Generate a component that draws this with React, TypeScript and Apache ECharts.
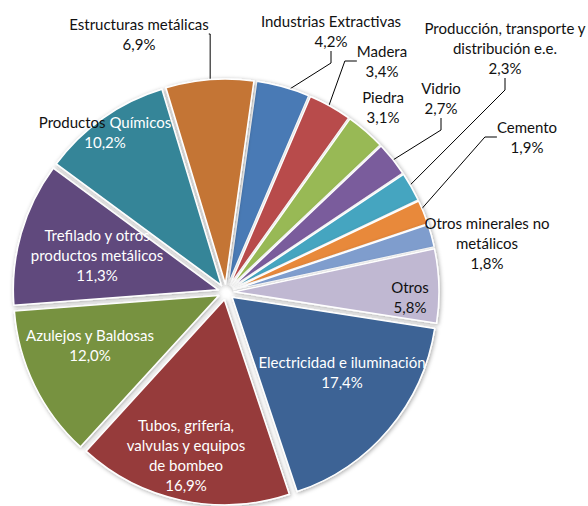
import React, { useEffect, useRef } from "react";
import * as echarts from "echarts";

const categories = [
  "Industrias Extractivas",
  "Madera",
  "Piedra",
  "Vidrio",
  "Producción, transporte y\ndistribución e.e.",
  "Cemento",
  "Otros minerales no\nmetálicos",
  "Otros",
  "Electricidad e iluminación",
  "Tubos, grifería,\nvalvulas y equipos\nde bombeo",
  "Azulejos y Baldosas",
  "Trefilado y otros\nproductos metálicos",
  "Productos Químicos",
  "Estructuras metálicas",
];

const values = [4.2, 3.4, 3.1, 2.7, 2.3, 1.9, 1.8, 5.8, 17.4, 16.9, 12.0, 11.3, 10.2, 6.9];

const colors = [
  "#4a7ab5", "#b84b4b", "#98b954", "#7a5c9c", "#45a5c0", "#e8893a", "#7f9dcd",
  "#c0b8d2", "#3c6495", "#963a3a", "#77923f", "#604a7d", "#368598", "#c47535",
];

// label placement (layout, not data)
const labelPos: [number, number][] = [
  [331, 31], [382, 61], [383, 107], [441, 98], [505, 48], [527, 137], [487, 243],
  [410, 297], [342, 372], [186, 455], [90, 345], [97, 255], [105, 132], [139, 34],
];
const insideIdx = [7, 8, 9, 10, 11, 12];
const noLineIdx = [2, 6];

const fmt = (v: number) => v.toFixed(1).replace(".", ",") + "%";

const FONT = "Lato";
const FS = 15;
const LH = 20;

export default function App() {
  const ref = useRef<HTMLDivElement>(null);
  useEffect(() => {
    if (!ref.current) return;
    const chart = echarts.init(ref.current, null, { renderer: "svg" });
    const common = {
      type: "pie",
      center: [226, 292],
      radius: 205,
      startAngle: 82,
      clockwise: true,
      avoidLabelOverlap: false,
      silent: true,
      emphasis: { disabled: true },
    };
    const sliceData = categories.map((name, i) => ({
      name,
      value: values[i],
      selected: true,
      itemStyle: { color: colors[i] },
    }));
    const labelData = categories.map((name, i) => {
      const inside = insideIdx.includes(i);
      const item: any = {
        name,
        value: values[i],
        label: {
          position: inside ? "inside" : "outside",
          color: inside && i !== 7 ? "#ffffff" : "#111111",
        },
        labelLine: { show: !inside && !noLineIdx.includes(i) },
      };
      if (i === 12) {
        item.label.formatter = "{d|Productos} {w|Químicos}\n{w|" + fmt(values[i]) + "}";
      }
      return item;
    });
    chart.setOption({
      animation: false,
      backgroundColor: "#ffffff",
      series: [
        {
          ...common,
          selectedMode: "multiple",
          selectedOffset: 8,
          itemStyle: {
            borderColor: "#ffffff",
            borderWidth: 1.5,
            shadowBlur: 4,
            shadowColor: "rgba(0,0,0,0.35)",
            shadowOffsetX: 1,
            shadowOffsetY: 1,
          },
          label: { show: false },
          labelLine: { show: false },
          data: sliceData,
        },
        {
          ...common,
          selectedMode: false,
          itemStyle: { color: "rgba(0,0,0,0)", borderWidth: 0, shadowBlur: 0 },
          label: {
            show: true,
            fontFamily: FONT,
            fontSize: FS,
            lineHeight: LH,
            align: "center",
            formatter: (p: any) => p.name + "\n" + fmt(p.value),
            rich: {
              d: { color: "#111111", fontFamily: FONT, fontSize: FS, lineHeight: LH },
              w: { color: "#ffffff", fontFamily: FONT, fontSize: FS, lineHeight: LH },
            },
          },
          labelLine: {
            show: true,
            length: 10,
            length2: 12,
            lineStyle: { color: "#000000", width: 1 },
          },
          labelLayout: (p: any) => {
            const pos = labelPos[p.dataIndex];
            return { x: pos[0], y: pos[1], align: "center", verticalAlign: "middle" };
          },
          data: labelData,
        },
      ],
    });
    return () => chart.dispose();
  }, []);
  return (
    <div
      ref={ref}
      style={{ position: "fixed", left: 0, top: 0, width: 588, height: 506 }}
    />
  );
}
